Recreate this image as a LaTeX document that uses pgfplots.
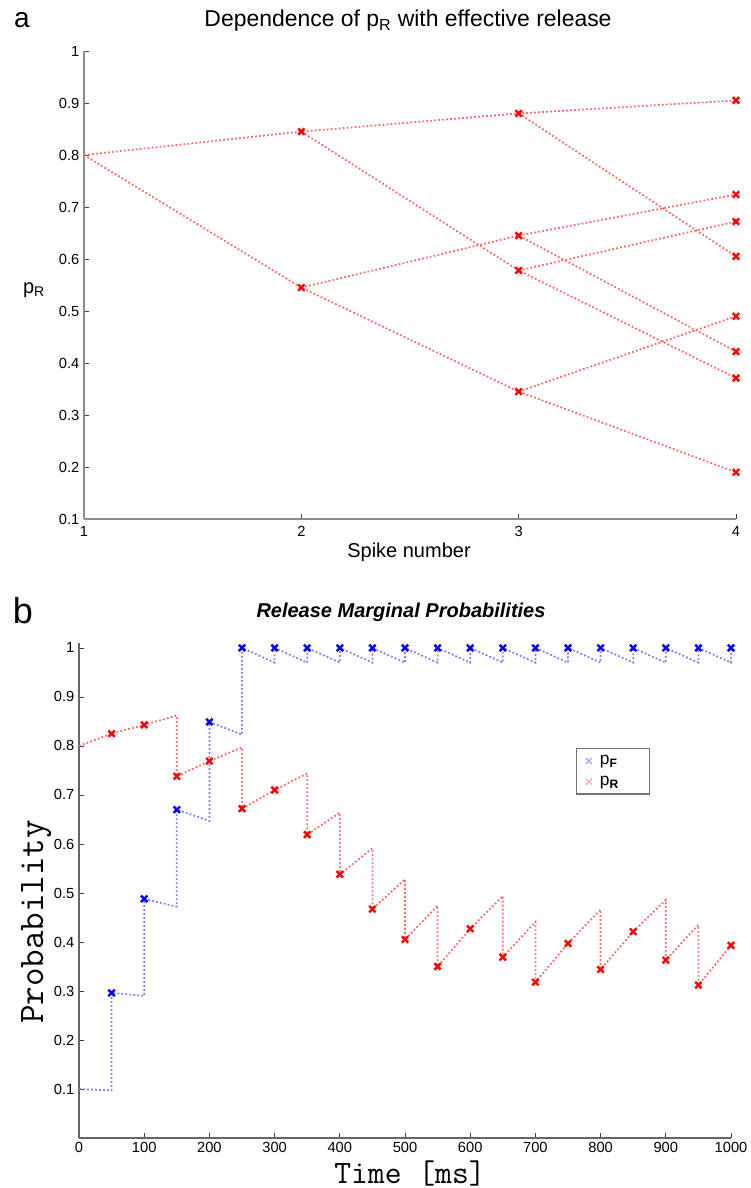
\documentclass[border=0pt]{standalone}
\usepackage{fontspec}
\setmainfont{Liberation Sans}
\usepackage{pgfplots}
\pgfplotsset{compat=1.18}

\definecolor{lnred}{RGB}{255,105,105}
\definecolor{lnblue}{RGB}{125,125,255}

\pgfplotsset{
  panel/.style={
    scale only axis,
    axis x line=bottom, axis y line=left,
    axis line style={-, line width=1.2pt},
    tick align=inside,
    major tick length=4pt,
    tick style={black!75, line width=0.6pt},
    /pgf/number format/assume math mode=true,
    /pgf/number format/set thousands separator={},
    tick label style={font=\fontsize{11}{13}\selectfont},
    clip=false,
  },
  dots/.style={line width=1.3pt, dash pattern=on 1.4pt off 1.6pt, mark=none},
  crosses/.style={only marks, mark=x, mark size=3.4pt, mark options={line width=1.8pt}},
}

\begin{document}
\begin{tikzpicture}
\useasboundingbox (0,0) rectangle (562.5pt,-891pt);

% ---- a: spike-by-spike release probability tree ----
\begin{axis}[panel,
  at={(63pt,-389.25pt)}, anchor=south west,
  width=489pt, height=351pt,
  xmin=1, xmax=4, ymin=0.1, ymax=1,
  xtick={1,2,3,4},
  ytick={0.1,0.2,0.3,0.4,0.5,0.6,0.7,0.8,0.9,1},
  axis line style={black!45},
  xticklabel style={yshift=-2pt},
]
\addplot[dots, lnred] coordinates {(1,0.8) (2,0.845) (3,0.88) (4,0.905)};
\addplot[dots, lnred] coordinates {(1,0.8) (2,0.545) (3,0.345) (4,0.19)};
\addplot[dots, lnred] coordinates {(2,0.845) (3,0.578) (4,0.371)};
\addplot[dots, lnred] coordinates {(2,0.545) (3,0.645) (4,0.422)};
\addplot[dots, lnred] coordinates {(3,0.88) (4,0.605)};
\addplot[dots, lnred] coordinates {(3,0.645) (4,0.724)};
\addplot[dots, lnred] coordinates {(3,0.578) (4,0.672)};
\addplot[dots, lnred] coordinates {(3,0.345) (4,0.49)};
\addplot[crosses, red] coordinates {
  (2,0.845) (2,0.545)
  (3,0.88) (3,0.645) (3,0.578) (3,0.345)
  (4,0.905) (4,0.724) (4,0.672) (4,0.605) (4,0.49) (4,0.422) (4,0.371) (4,0.19)};
\end{axis}

% ---- b: marginal probabilities over time ----
\begin{axis}[panel,
  at={(59.25pt,-853.5pt)}, anchor=south west,
  width=489pt, height=371.25pt,
  xmin=0, xmax=1000, ymin=0, ymax=1.01,
  xtick={0,100,200,300,400,500,600,700,800,900,1000},
  ytick={0.1,0.2,0.3,0.4,0.5,0.6,0.7,0.8,0.9,1},
  axis line style={black!60},
  legend style={at={(0.762,0.788)}, anchor=north west,
    draw=black!55, line width=1pt, fill=white,
    font=\fontsize{13}{15}\selectfont,
    inner xsep=7pt, inner ysep=3pt, row sep=3pt},
  legend cell align=left,
]
\addplot[dots, lnblue, forget plot] coordinates {
  (0,0.100) (50,0.097) (50,0.296) (100,0.290) (100,0.488) (150,0.472)
  (150,0.670) (200,0.647) (200,0.849) (250,0.823) (250,1.000)
  (300,0.970) (300,1) (350,0.970) (350,1) (400,0.970) (400,1)
  (450,0.970) (450,1) (500,0.970) (500,1) (550,0.970) (550,1)
  (600,0.970) (600,1) (650,0.970) (650,1) (700,0.970) (700,1)
  (750,0.970) (750,1) (800,0.970) (800,1) (850,0.970) (850,1)
  (900,0.970) (900,1) (950,0.970) (950,1) (1000,0.970) (1000,1)};
\addplot[dots, lnred, forget plot] coordinates {
  (0,0.800) (50,0.825) (100,0.843) (150,0.862) (150,0.738) (200,0.769)
  (250,0.797) (250,0.672) (300,0.710) (350,0.744) (350,0.619) (400,0.664)
  (400,0.538) (450,0.591) (450,0.467) (500,0.528) (500,0.405) (550,0.474)
  (550,0.350) (600,0.427) (650,0.494) (650,0.369) (700,0.441) (700,0.318)
  (750,0.397) (800,0.466) (800,0.344) (850,0.421) (900,0.486) (900,0.363)
  (950,0.435) (950,0.312) (1000,0.393)};
\addplot[crosses, blue, forget plot] coordinates {
  (50,0.296) (100,0.488) (150,0.670) (200,0.849) (250,1) (300,1) (350,1)
  (400,1) (450,1) (500,1) (550,1) (600,1) (650,1) (700,1) (750,1) (800,1)
  (850,1) (900,1) (950,1) (1000,1)};
\addplot[crosses, red, forget plot] coordinates {
  (50,0.825) (100,0.843) (150,0.738) (200,0.769) (250,0.672) (300,0.710)
  (350,0.619) (400,0.538) (450,0.467) (500,0.405) (550,0.350) (600,0.427)
  (650,0.369) (700,0.318) (750,0.397) (800,0.344) (850,0.421) (900,0.363)
  (950,0.312) (1000,0.393)};
\addlegendimage{only marks, mark=x, mark size=3.2pt, blue!35, mark options={line width=1pt}}
\addlegendentry{\hspace*{4pt}p\textsubscript{\textbf{F}}\hspace*{14pt}}
\addlegendimage{only marks, mark=x, mark size=3.2pt, red!35, mark options={line width=1pt}}
\addlegendentry{\hspace*{4pt}p\textsubscript{\textbf{R}}\hspace*{14pt}}
\end{axis}

% ---- titles, axis labels and panel letters ----
\begin{scope}[x=0.75pt, y=-0.75pt]
\node[font=\fontsize{21}{24}\selectfont] at (22,20) {a};
\node[font=\fontsize{17.2}{20}\selectfont] at (408,21) {Dependence of p\textsubscript{R} with effective release};
\node[font=\fontsize{15}{18}\selectfont] at (409,552) {Spike number};
\node[font=\fontsize{15}{18}\selectfont] at (34,290) {p\textsubscript{R}};

\node[font=\fontsize{27}{30}\selectfont] at (23,611) {b};
\node[font=\fontsize{15}{18}\selectfont\bfseries\itshape] at (401,612) {Release Marginal Probabilities};
\node[font=\fontsize{24.5}{27}\selectfont\ttfamily, anchor=base, inner sep=0pt] at (410,1183) {Time [ms]};
\node[font=\fontsize{27}{30}\selectfont\ttfamily, rotate=90, anchor=base] at (43,922) {Probability};
\end{scope}
\end{tikzpicture}
\end{document}
